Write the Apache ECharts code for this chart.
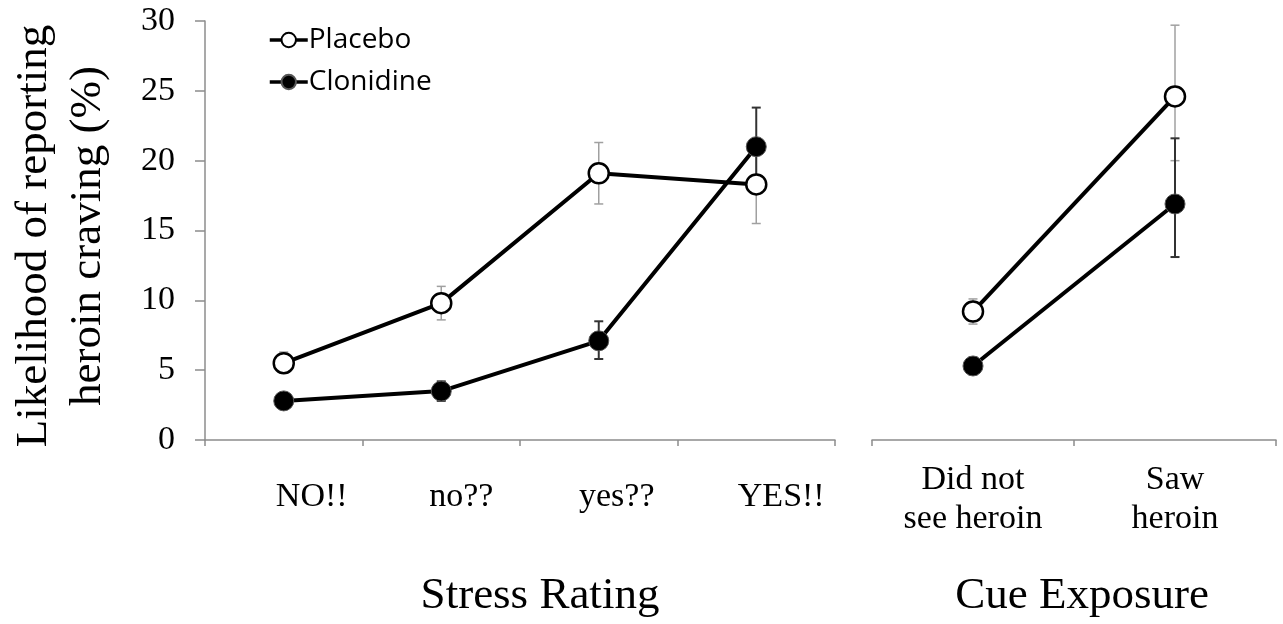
<!DOCTYPE html>
<html>
<head>
<meta charset="utf-8">
<script src="https://cdn.jsdelivr.net/npm/echarts@6/dist/echarts.min.js"></script>
<style>
  html, body { margin: 0; padding: 0; background: #fff; }
  #chart { width: 1283px; height: 624px; }
</style>
</head>
<body>
<div id="chart"></div>
<script>
// Categories
const stressCategories = ['NO!!', 'no??', 'yes??', 'YES!!'];
const cueCategories = ['Did not\nsee heroin', 'Saw\nheroin'];
const yTicks = [0, 5, 10, 15, 20, 25, 30];

// Mean likelihood of reporting craving (%)
const placeboStress = [5.5, 9.8, 19.1, 18.3];
const clonidineStress = [2.8, 3.5, 7.1, 21.0];
const placeboCue = [9.2, 24.6];
const clonidineCue = [5.3, 16.9];

// Error bar ends (low, high)
const placeboStressLow = [4.8, 8.6, 16.9, 15.5];
const placeboStressHigh = [6.3, 11.0, 21.3, 21.1];
const clonidineStressLow = [2.4, 2.8, 5.8, 18.2];
const clonidineStressHigh = [3.2, 4.2, 8.5, 23.8];
const placeboCueLow = [8.3, 20.0];
const placeboCueHigh = [10.1, 29.7];
const clonidineCueLow = [4.7, 13.1];
const clonidineCueHigh = [5.9, 21.6];

const SERIF = '"Liberation Serif", "Times New Roman", serif';
const SANS = '"Open Sans", "Noto Sans", sans-serif';
const AXIS_GRAY = '#8c8c8c';
const TICK_FONT = 34;
// stress-rating labels sit a little to the right of their category centres
const stressLabelShift = [28, 20, 18, 25];

function barData(low, high) {
  return low.map((l, i) => [i, l, high[i]]);
}

function errorBars(name, xIdx, yIdx, data, color, width) {
  return {
    type: 'custom',
    name: name + ' SEM',
    xAxisIndex: xIdx,
    yAxisIndex: yIdx,
    z: 1,
    silent: true,
    data: data,
    renderItem: function (params, api) {
      const lo = api.coord([api.value(0), api.value(1)]);
      const hi = api.coord([api.value(0), api.value(2)]);
      const cap = 4.5;
      const style = { stroke: color, lineWidth: width };
      return {
        type: 'group',
        children: [
          { type: 'line', shape: { x1: lo[0], y1: lo[1], x2: hi[0], y2: hi[1] }, style: style },
          { type: 'line', shape: { x1: lo[0] - cap, y1: lo[1], x2: lo[0] + cap, y2: lo[1] }, style: style },
          { type: 'line', shape: { x1: hi[0] - cap, y1: hi[1], x2: hi[0] + cap, y2: hi[1] }, style: style }
        ]
      };
    }
  };
}

const placeboStyle = {
  symbol: 'circle', symbolSize: 20,
  itemStyle: { color: '#fff', borderColor: '#000', borderWidth: 2.5 },
  lineStyle: { color: '#000', width: 4 }
};
const clonidineStyle = {
  symbol: 'circle', symbolSize: 20,
  itemStyle: { color: '#000', borderColor: '#555', borderWidth: 1 },
  lineStyle: { color: '#000', width: 4 }
};

function lineSeries(name, xIdx, yIdx, data, style) {
  return Object.assign({
    type: 'line', name: name, xAxisIndex: xIdx, yAxisIndex: yIdx,
    data: data, z: 3, animation: false
  }, style);
}

const xAxisBase = {
  type: 'category',
  boundaryGap: true,
  axisLine: { show: true, lineStyle: { color: AXIS_GRAY, width: 1.5 } },
  axisTick: { show: true, length: 6, alignWithLabel: false, lineStyle: { color: AXIS_GRAY, width: 1.5 } },
  splitLine: { show: false },
  nameLocation: 'middle'
};

const stressRich = {};
stressLabelShift.forEach((s, i) => {
  stressRich['c' + i] = {
    fontFamily: SERIF, fontSize: TICK_FONT, color: '#000', padding: [0, 0, 0, 2 * s]
  };
});

const chart = echarts.init(document.getElementById('chart'), null, { renderer: 'canvas' });

chart.setOption({
  backgroundColor: '#fff',
  animation: false,
  legend: {
    data: ['Placebo', 'Clonidine'],
    orient: 'vertical',
    left: 263,
    top: 20,
    itemWidth: 38,
    itemHeight: 18,
    itemGap: 12,
    lineStyle: { width: 3.5 },
    textStyle: { fontFamily: SANS, fontSize: 28, color: '#000', lineHeight: 30, padding: [0, 0, 0, -4] }
  },
  grid: [
    { left: 205, top: 21, width: 630, height: 422 },
    { left: 872, top: 21, width: 404, height: 422 }
  ],
  xAxis: [
    Object.assign({}, xAxisBase, {
      gridIndex: 0,
      data: stressCategories,
      axisLabel: {
        interval: 0, fontFamily: SERIF, fontSize: TICK_FONT, color: '#000', margin: 40,
        formatter: (v, i) => '{c' + i + '|' + v + '}',
        rich: stressRich
      },
      name: 'Stress Rating',
      nameGap: 134,
      nameTextStyle: { fontFamily: SERIF, fontSize: 45, color: '#000', padding: [0, 0, 0, 40] }
    }),
    Object.assign({}, xAxisBase, {
      gridIndex: 1,
      data: cueCategories,
      axisLabel: { interval: 0, fontFamily: SERIF, fontSize: TICK_FONT, color: '#000', margin: 21, lineHeight: 39 },
      name: 'Cue Exposure',
      nameGap: 134,
      nameTextStyle: { fontFamily: SERIF, fontSize: 45, color: '#000', padding: [0, 0, 0, 16] }
    })
  ],
  yAxis: [
    {
      type: 'value', gridIndex: 0, min: 0, max: 30, interval: 5,
      axisLine: { show: true, lineStyle: { color: AXIS_GRAY, width: 1.5 } },
      axisTick: { show: true, length: 10, lineStyle: { color: AXIS_GRAY, width: 1.5 } },
      splitLine: { show: false },
      axisLabel: {
        fontFamily: SERIF, fontSize: TICK_FONT, color: '#000', margin: 30,
        formatter: v => (yTicks.indexOf(v) >= 0 ? String(v) : '')
      },
      name: 'Likelihood of reporting\nheroin craving (%)',
      nameLocation: 'middle',
      nameRotate: 90,
      nameGap: 90,
      nameTextStyle: { fontFamily: SERIF, fontSize: 45, color: '#000', lineHeight: 54, padding: [0, 11, 0, 0] }
    },
    { type: 'value', gridIndex: 1, min: 0, max: 30, interval: 5, show: false }
  ],
  series: [
    errorBars('Placebo', 0, 0, barData(placeboStressLow, placeboStressHigh), '#a0a0a0', 1.5),
    errorBars('Clonidine', 0, 0, barData(clonidineStressLow, clonidineStressHigh), '#333', 2),
    errorBars('Placebo', 1, 1, barData(placeboCueLow, placeboCueHigh), '#a0a0a0', 1.5),
    errorBars('Clonidine', 1, 1, barData(clonidineCueLow, clonidineCueHigh), '#333', 2),
    lineSeries('Placebo', 0, 0, placeboStress, placeboStyle),
    lineSeries('Clonidine', 0, 0, clonidineStress, clonidineStyle),
    lineSeries('Placebo', 1, 1, placeboCue, placeboStyle),
    lineSeries('Clonidine', 1, 1, clonidineCue, clonidineStyle)
  ]
});
</script>
</body>
</html>
